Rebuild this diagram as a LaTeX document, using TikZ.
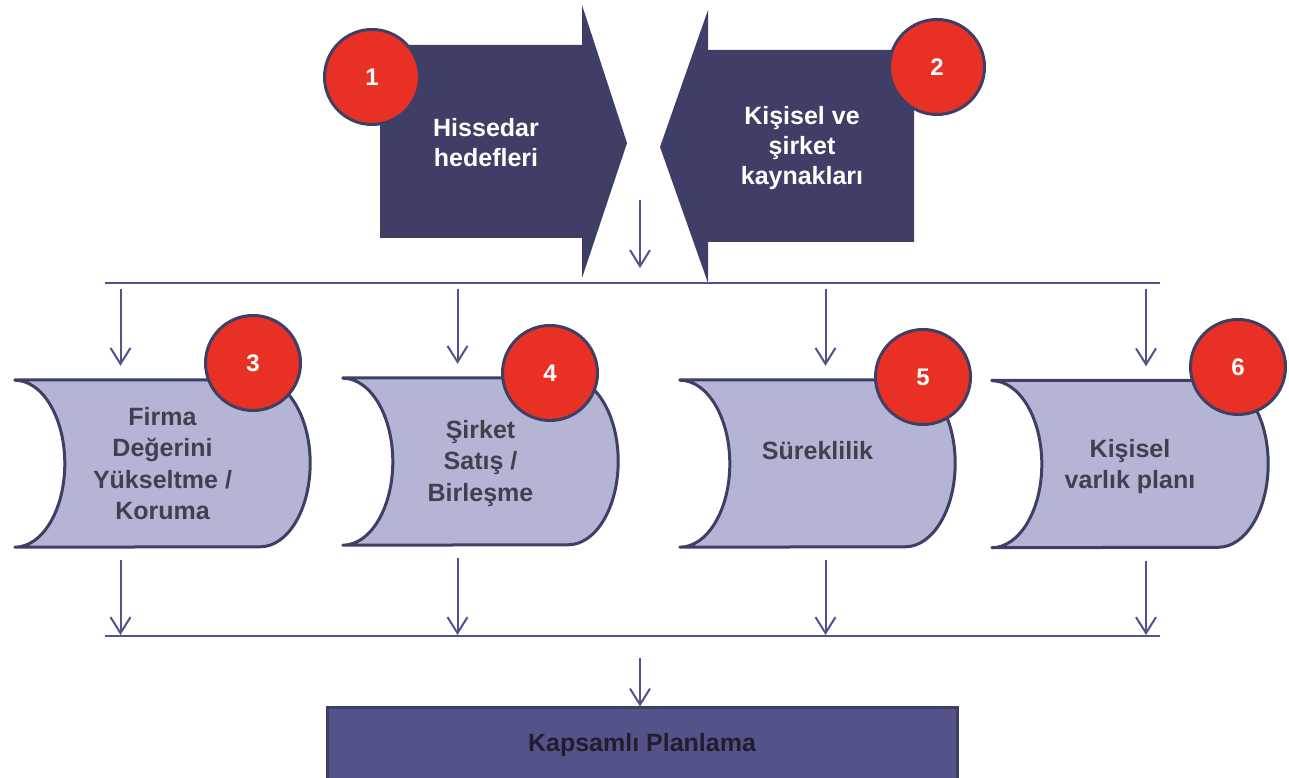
\documentclass[tikz,border=0pt]{standalone}
\usepackage{fontspec}
\setmainfont{Liberation Sans}
\usetikzlibrary{arrows.meta, positioning, calc, backgrounds}
\definecolor{navyblue}{RGB}{62,62,102}
\definecolor{badgered}{RGB}{233,48,36}
\definecolor{lavender}{RGB}{180,180,212}
\definecolor{linkblue}{RGB}{82,82,140}
\definecolor{textgray}{RGB}{64,64,82}
\definecolor{planblue}{RGB}{83,83,138}
\definecolor{plantext}{RGB}{30,30,46}

\begin{document}
\begin{tikzpicture}[
    x=1pt, y=1pt,
    toptext/.style={align=center, text=white, font=\bfseries\fontsize{25}{30}\selectfont},
    store/.style={minimum width=275pt, minimum height=167pt, inner sep=0pt, align=center, text=textgray, font=\bfseries\fontsize{25}{31.5}\selectfont},
    badge/.style={circle, draw=navyblue, line width=3pt, fill=badgered, minimum size=95pt, inner sep=0pt, text=white, font=\bfseries\fontsize{24}{24}\selectfont},
    plan/.style={rectangle, draw=navyblue, line width=3pt, fill=planblue, minimum width=630pt, minimum height=74pt, text=plantext, font=\bfseries\fontsize{25}{30}\selectfont},
    storeline/.style={draw=navyblue, fill=lavender, line width=3pt, line join=round},
    arrow/.style={-{Straight Barb[length=16pt, width=20pt]}, draw=linkblue, line width=2pt},
    bar/.style={draw=linkblue, line width=2.4pt}
]
    \useasboundingbox (0,0) rectangle (1289,778);

    % Top arrows
    \fill[navyblue] (380,733) -- (582,733) -- (582,773) -- (627,635) -- (582,500) -- (582,540) -- (380,540) -- cycle;
    \fill[navyblue] (914,728) -- (708,728) -- (708,768) -- (660,631) -- (708,495) -- (708,536) -- (914,536) -- cycle;
    \node[toptext] (hisse) at (486,635) {Hissedar\\hedefleri};
    \node[toptext] (kaynak) at (802,630) {Kişisel ve\\şirket\\kaynakları};

    % Planning areas
    \node[store, minimum width=295pt] (firma) at (162.5,314.5) {Firma\\Değerini\\Yükseltme /\\Koruma};
    \node[store] (satis) at (480.5,316.5) {\\[-10pt]Şirket\\Satış /\\Birleşme};
    \node[store] (surek) at (817.5,314.5) {\raisebox{27pt}{Süreklilik}};
    \node[store, minimum width=276pt] (varlik) at (1130,314) {\\[-8pt]Kişisel\\varlık planı};
    \begin{scope}[on background layer]
        \foreach \n in {firma,satis,surek,varlik}
            \draw[storeline] (\n.north west) -- ($(\n.north east)+(-50,0)$)
                arc[start angle=90, end angle=-90, x radius=50, y radius=83.5]
                -- (\n.south west)
                arc[start angle=-90, end angle=90, x radius=50, y radius=83.5] -- cycle;
    \end{scope}

    % Result
    \node[plan] (plan) at (642,33) {Kapsamlı Planlama};

    % Number badges
    \node[badge] (n1) at (372,701) {1};
    \node[badge] (n2) at (937,711) {2};
    \node[badge] (n3) at (253,415) {3};
    \node[badge] (n4) at (550,405) {4};
    \node[badge] (n5) at (923,401) {5};
    \node[badge] (n6) at (1238,411) {6};

    % Bus lines
    \coordinate (busTL) at (105,495);
    \coordinate (busTR) at (1160,495);
    \coordinate (busBL) at (105,142);
    \coordinate (busBR) at (1160,142);
    \draw[bar] (busTL) -- (busTR);
    \draw[bar] (busBL) -- (busBR);

    % Arrows
    \coordinate (gapin) at (640,578);
    \coordinate (gapout) at (640,510);
    \draw[arrow] (gapin) -- (gapout);
    \foreach \n/\dx in {firma/-42, satis/-23, surek/8, varlik/16} {
        \draw[arrow] ($(\n.north |- busTL)+(\dx,-6)$) -- ($(\n.north)+(\dx,14)$);
        \draw[arrow] ($(\n.south)+(\dx,-13)$) -- ($(\n.south |- busBL)+(\dx,1)$);
    }
    \draw[arrow] ($(busBL -| plan.north)+(-2,-22)$) -- ($(plan.north)+(-2,0)$);

\end{tikzpicture}
\end{document}
